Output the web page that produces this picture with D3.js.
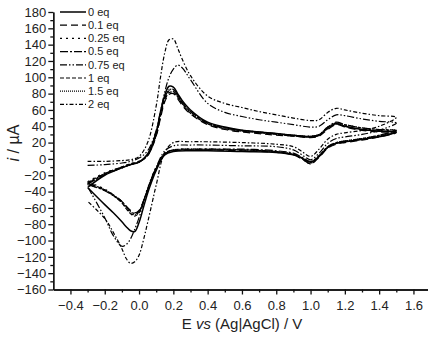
<!DOCTYPE html>
<html>
<head>
<meta charset="utf-8">
<script src="https://cdn.jsdelivr.net/npm/d3@7"></script>
<style>
  body { margin: 0; background: #fff; }
  svg text { font-family: Arial, "Liberation Sans", sans-serif; fill: #222; }
</style>
</head>
<body>
<div id="cv"></div>
<script>
// potential grids (V) for the forward and the reverse sweep
const forwardE = [-0.3, -0.2, -0.1, -0.05, 0.0, 0.05, 0.1, 0.125, 0.15, 0.175, 0.2, 0.225, 0.25, 0.3,
                  0.4, 0.5, 0.6, 0.7, 0.8, 0.9, 1.0, 1.05, 1.1, 1.15, 1.2, 1.3, 1.4, 1.5];
const reverseE = [1.5, 1.4, 1.3, 1.2, 1.15, 1.1, 1.05, 1.0, 0.95, 0.9, 0.8, 0.6, 0.4, 0.3,
                  0.2, 0.15, 0.1, 0.075, 0.05, 0.025, 0.0, -0.025, -0.05, -0.075, -0.1, -0.15, -0.2, -0.3];

// currents (uA)
const fwd0eq   = [-35, -20, -11, -7, -4, 6, 33, 58, 78, 89, 88, 80, 72, 60, 45, 39, 35, 33, 31, 29, 27, 29, 38, 43, 40, 36, 34, 33];
const rev0eq   = [33, 27, 24, 21, 19, 14, 3, -4, 1, 5, 8, 9, 10, 10, 9, 5, -14, -27, -42, -60, -78, -89, -88, -83, -77, -66, -56, -35];
const fwd01eq  = [-30, -18, -10, -7, -4, 4, 28, 50, 70, 79, 80, 74, 66, 55, 42, 36, 33, 31, 29, 28, 26, 28, 36, 42, 39, 35, 33, 32];
const rev01eq  = [32, 27, 23, 20, 18, 13, 2, -6, 0, 5, 8, 10, 11, 11, 10, 6, -12, -24, -38, -52, -63, -66, -63, -58, -52, -44, -38, -30];
const fwd025eq = [-28, -17, -10, -6, -3, 5, 30, 54, 74, 83, 83, 76, 68, 57, 43, 37, 34, 32, 30, 28, 27, 29, 38, 44, 41, 37, 35, 34];
const rev025eq = [34, 28, 24, 21, 19, 14, 3, -5, 1, 6, 9, 11, 12, 12, 11, 6, -10, -22, -36, -52, -65, -69, -66, -60, -53, -44, -37, -28];
const fwd05eq  = [-31, -19, -11, -7, -4, 5, 31, 55, 75, 84, 85, 78, 70, 58, 44, 38, 35, 33, 31, 29, 28, 30, 39, 45, 42, 38, 36, 35];
const rev05eq  = [35, 29, 25, 22, 20, 15, 4, -3, 2, 7, 10, 12, 12, 12, 11, 7, -11, -23, -37, -52, -64, -67, -64, -58, -52, -45, -39, -31];
const fwd075eq = [-8, -7, -5, -3, 1, 10, 35, 58, 82, 100, 110, 115, 112, 97, 68, 57, 52, 48, 45, 42, 39, 40, 48, 54, 53, 49, 46, 44];
const rev075eq = [44, 35, 30, 27, 25, 19, 7, -1, 5, 11, 15, 16, 17, 17, 16, 10, -10, -22, -37, -54, -72, -86, -98, -105, -107, -94, -72, -34];
const fwd1eq   = [-29, -18, -10, -6, -3, 4, 29, 52, 72, 81, 82, 76, 68, 56, 43, 37, 34, 32, 30, 28, 27, 29, 37, 43, 40, 36, 34, 33];
const rev1eq   = [33, 28, 24, 21, 19, 14, 3, -6, 0, 5, 9, 11, 11, 11, 10, 6, -12, -24, -38, -53, -66, -70, -67, -61, -54, -45, -38, -29];
const fwd15eq  = [-32, -19, -11, -7, -4, 5, 32, 56, 76, 85, 85, 78, 70, 58, 44, 38, 35, 33, 31, 29, 28, 30, 39, 44, 42, 38, 36, 35];
const rev15eq  = [35, 29, 25, 22, 20, 15, 4, -4, 1, 6, 9, 11, 12, 12, 11, 7, -12, -24, -38, -52, -65, -68, -65, -59, -53, -45, -38, -32];
const fwd2eq   = [-3, -3, -2, -1, 3, 20, 65, 100, 130, 146, 147, 136, 123, 102, 77, 68, 63, 58, 54, 50, 47, 48, 57, 62, 60, 56, 53, 51];
const rev2eq   = [51, 40, 35, 32, 30, 24, 12, 3, 9, 15, 18, 20, 21, 21, 20, 8, -32, -55, -78, -100, -118, -126, -128, -122, -110, -90, -73, -52];

const labels = ['0 eq', '0.1 eq', '0.25 eq', '0.5 eq', '0.75 eq', '1 eq', '1.5 eq', '2 eq'];
const forwardI = [fwd0eq, fwd01eq, fwd025eq, fwd05eq, fwd075eq, fwd1eq, fwd15eq, fwd2eq];
const reverseI = [rev0eq, rev01eq, rev025eq, rev05eq, rev075eq, rev1eq, rev15eq, rev2eq];
const dashes = ['none', '7,4', '2,4', '8,2,2,2', '7,2,1.5,2,1.5,2', '4,2', '1,1', '4,2,1.5,2'];

const yTicks = d3.range(-160, 181, 20);
const xTicks = d3.range(-0.4, 1.61, 0.2);

const width = 428;
const height = 342;

const svg = d3.select('#cv')
              .append('svg')
              .attr('width', width)
              .attr('height', height);

const x = d3.scaleLinear().domain([-0.5, 1.7]).range([53.3, 430.6]);
const y = d3.scaleLinear().domain([-160, 180]).range([289.5, 12]);

// axes
const xAxis = d3.axisBottom(x).tickValues(xTicks).tickFormat(d3.format('.1f')).tickSize(5).tickSizeOuter(0);
const xMinor = d3.axisBottom(x).tickValues(d3.range(-0.3, 1.71, 0.2)).tickFormat('').tickSize(3).tickSizeOuter(0);
const yAxis = d3.axisLeft(y).tickValues(yTicks).tickSize(5).tickSizeOuter(0);
const yMinor = d3.axisLeft(y).tickValues(d3.range(-150, 180, 20)).tickFormat('').tickSize(3).tickSizeOuter(0);

svg.append('g').attr('transform', 'translate(0,' + y(-160) + ')').call(xMinor);
svg.append('g').attr('transform', 'translate(0,' + y(-160) + ')').call(xAxis)
   .selectAll('text').attr('font-size', 13).attr('dy', '0.95em');
svg.append('g').attr('transform', 'translate(' + x(-0.5) + ',0)').call(yMinor);
svg.append('g').attr('transform', 'translate(' + x(-0.5) + ',0)').call(yAxis)
   .selectAll('text').attr('font-size', 13).attr('x', -7);

svg.selectAll('.domain, .tick line').attr('stroke', '#111').attr('stroke-width', 1.3);

// axis titles
svg.append('text')
   .attr('x', 242).attr('y', 329)
   .attr('text-anchor', 'middle')
   .attr('font-size', 15)
   .html('E <tspan font-style="italic">vs</tspan> (Ag|AgCl) / V');

svg.append('text')
   .attr('transform', 'translate(19,143) rotate(-90)')
   .attr('text-anchor', 'middle')
   .attr('font-size', 16)
   .html('<tspan font-style="italic">i</tspan> / µA');

// curves
const line = d3.line()
               .x(d => x(d[0]))
               .y(d => y(d[1]))
               .curve(d3.curveCatmullRom.alpha(0.5));

labels.forEach((name, k) => {
  const pts = forwardE.map((e, j) => [e, forwardI[k][j]])
                      .concat(reverseE.slice(1).map((e, j) => [e, reverseI[k][j + 1]]));
  svg.append('path')
     .datum(pts)
     .attr('d', line)
     .attr('fill', 'none')
     .attr('stroke', '#000')
     .attr('stroke-width', k === 0 ? 1.5 : 1.2)
     .attr('stroke-dasharray', dashes[k]);
});

// legend
const legend = svg.append('g');
labels.forEach((name, k) => {
  const ly = 12 + k * 13.2;
  legend.append('line')
        .attr('x1', 60).attr('x2', 86)
        .attr('y1', ly).attr('y2', ly)
        .attr('stroke', '#000')
        .attr('stroke-width', k === 0 ? 1.5 : 1.2)
        .attr('stroke-dasharray', dashes[k]);
  legend.append('text')
        .attr('x', 88).attr('y', ly)
        .attr('dy', '0.35em')
        .attr('font-size', 11)
        .text(name);
});
</script>
</body>
</html>
